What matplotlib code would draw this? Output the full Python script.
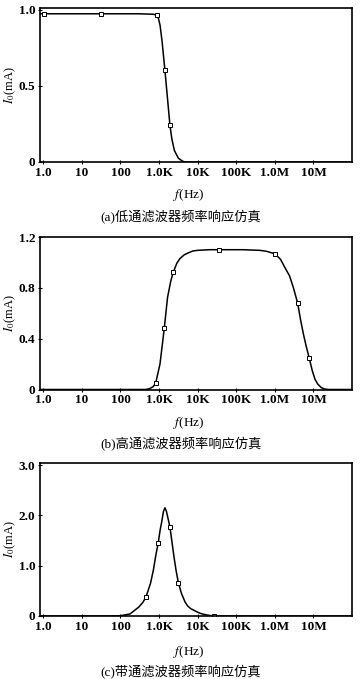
import matplotlib
matplotlib.use("Agg")
import matplotlib.pyplot as plt

plt.rcParams["font.family"] = ["Liberation Serif", "Noto Sans CJK SC"]
plt.rcParams["mathtext.fontset"] = "stix"

# shared x axis
freq_ticks = [1, 10, 100, 1e3, 1e4, 1e5, 1e6, 1e7]
freq_labels = ["1.0", "10", "100", "1.0K", "10K", "100K", "1.0M", "10M"]

# (a) low pass
lp_f = [0.82, 1.05, 31, 300, 700, 870, 960, 1060, 1200, 1415, 1650, 1910, 2150, 2500, 3160, 4000, 4700, 1e8]
lp_i = [0.975, 0.975, 0.975, 0.975, 0.972, 0.967, 0.945, 0.90, 0.79, 0.605, 0.42, 0.243, 0.15, 0.075, 0.025,
        0.006, 0.0, 0.0]
lp_mf = [1.05, 31, 870, 1415, 1910]
lp_mi = [0.975, 0.975, 0.967, 0.605, 0.243]

# (b) "high pass" (as labelled)
hp_f = [0.82, 300, 450, 581, 700, 817, 1055, 1200, 1365, 1660, 2000, 2333, 2900, 3470, 4500, 5710, 7500,
        10000, 20000, 36000, 150000, 408000, 600000, 1.0e6, 1.4e6, 1.8e6, 2.4e6, 3.0e6, 3.9e6, 4.6e6, 5.5e6,
        6.5e6, 7.8e6, 9.3e6, 11e6, 13e6, 16e6, 19e6, 24e6, 1e8]
hp_i = [0.0, 0.0, 0.0, 0.008, 0.022, 0.05, 0.2, 0.34, 0.484, 0.726, 0.85, 0.924, 0.995, 1.03, 1.06, 1.075, 1.09,
        1.095, 1.1, 1.1, 1.1, 1.095, 1.088, 1.068, 1.025, 0.963, 0.895, 0.805, 0.681, 0.555, 0.437,
        0.34, 0.247, 0.15, 0.08, 0.042, 0.015, 0.005, 0.0, 0.0]
hp_mf = [817, 1365, 2333, 36000, 1.0e6, 3.9e6, 7.8e6]
hp_mi = [0.05, 0.484, 0.924, 1.1, 1.068, 0.681, 0.247]

# (c) band pass
bp_f = [0.82, 54, 100, 176, 300, 380, 459, 600, 710, 830, 955, 1060, 1170, 1300, 1420, 1550, 1910, 2150, 2430,
        2750, 3160, 3800, 4700, 5500, 6500, 9400, 12000, 15000, 20000, 27000, 1e8]
bp_i = [0.0, 0.0, 0.006, 0.04, 0.18, 0.27, 0.38, 0.65, 0.91, 1.22, 1.46, 1.70, 1.87, 2.08, 2.15, 2.08, 1.77, 1.48,
        1.18, 0.91, 0.66, 0.45, 0.28, 0.2, 0.15, 0.085, 0.05, 0.03, 0.012, 0.0, 0.0]
bp_mf = [459, 955, 1910, 3160, 27000]
bp_mi = [0.38, 1.46, 1.77, 0.66, 0.0]

panels = [
    (lp_f, lp_i, lp_mf, lp_mi, 1.013, [0, 0.5, 1.0], ["0", "0.5", "1.0"], "(a)低通滤波器频率响应仿真"),
    (hp_f, hp_i, hp_mf, hp_mi, 1.2, [0, 0.4, 0.8, 1.2], ["0", "0.4", "0.8", "1.2"], "(b)高通滤波器频率响应仿真"),
    (bp_f, bp_i, bp_mf, bp_mi, 3.04, [0, 1, 2, 3], ["0", "1.0", "2.0", "3.0"], "(c)带通滤波器频率响应仿真"),
]

# pixel layout: axes top/bottom, xlabel y, caption y
W, H = 360, 679
layout = [(8, 162, 195, 216), (237, 389.5, 423, 443), (463, 616, 652, 671)]
left, right = 40, 352

fig = plt.figure(figsize=(W / 100, H / 100), dpi=100)
fig.patch.set_facecolor("white")

for (f, i, mf, mi, ytop, yt, ytl, cap), (top, bot, xl_y, cap_y) in zip(panels, layout):
    ax = fig.add_axes([left / W, 1 - bot / H, (right - left) / W, (bot - top) / H])
    ax.plot(f, i, color="black", lw=1.1, solid_joinstyle="round")
    ax.plot(mf, mi, ls="none", marker="s", ms=3, mfc="white", mec="black", mew=0.7)
    ax.set_xscale("log")
    ax.set_xlim(0.82, 1e8)
    ax.set_ylim(0, ytop)
    ax.set_xticks(freq_ticks)
    ax.set_xticklabels(freq_labels)
    ax.minorticks_off()
    ax.set_yticks(yt)
    ax.set_yticklabels(ytl)
    ax.tick_params(axis="both", direction="inout", length=3, width=0.8, labelsize=9.5, pad=2)
    for lab in ax.get_xticklabels() + ax.get_yticklabels():
        lab.set_fontweight("bold")
    for sp in ax.spines.values():
        sp.set_linewidth(1.2)
    mid = (top + bot) / 2
    fig.text(10 / W, 1 - mid / H, r"$I_0$(mA)", rotation=90, ha="center", va="center", fontsize=9)
    fig.text(189 / W, 1 - xl_y / H, r"$f$(Hz)", ha="center", va="center", fontsize=9.5)
    fig.text(181 / W, 1 - cap_y / H, cap, ha="center", va="center", fontsize=9.5)

fig.savefig("out.png", dpi=100)
